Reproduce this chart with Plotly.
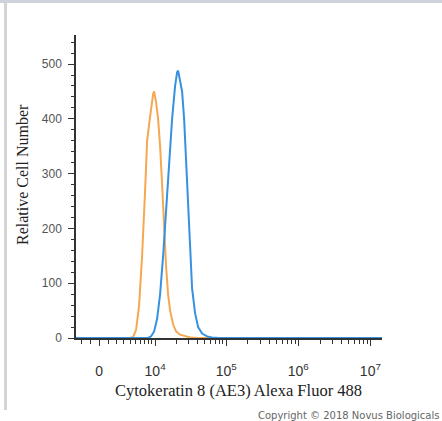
import numpy as np
import plotly.graph_objects as go

# ---- data (raw fluorescence intensity vs. cell count) ----
orange_x = [-2780, 0, 2000, 4000, 4520, 5080, 5700, 6360, 7090, 7610, 8150, 8730, 9350, 9680,
            10350, 11070, 11840, 12650, 13520, 14440, 15400, 16450, 18140, 20000,
            22750, 26750, 31400, 40000, 1.45e7]
orange_y = [0, 0, 0, 0, 2, 15, 60, 150, 270, 360, 390, 420, 445, 450,
            430, 400, 350, 280, 200, 130, 80, 50, 25, 12,
            6, 3, 1, 0, 0]

blue_x = [-2780, 0, 4000, 7870, 8730, 9680, 10710, 11840, 13080, 14440, 15920, 17560, 19360,
          20650, 21340, 22750, 24280, 25910, 27640, 29450, 31400, 33500, 36900,
          40620, 46200, 54200, 63600, 80000, 1.45e7]
blue_y = [0, 0, 0, 0, 3, 12, 35, 80, 150, 240, 330, 400, 460,
          485, 488, 470, 450, 400, 320, 230, 150, 90, 45,
          20, 8, 3, 1, 0, 0]

major_vals = [0, 1e4, 1e5, 1e6, 1e7]
major_text = ["0", "10<sup>4</sup>", "10<sup>5</sup>", "10<sup>6</sup>", "10<sup>7</sup>"]
x_title = "Cytokeratin 8 (AE3) Alexa Fluor 488"
y_title = "Relative Cell Number"
credit = "Copyright © 2018 Novus Biologicals"

# biexponential-like (arcsinh) display transform used by the cytometry axis
C = 3442.0
def tf(v):
    return np.arcsinh(np.asarray(v, dtype=float) / C)

minor_raw = []
for m in range(1, 10):
    minor_raw += [-m * 1000, m * 1000]
for e in (4, 5, 6):
    minor_raw += [m * 10 ** e for m in range(2, 10)]
x_lo, x_hi = tf(-2780), tf(1.45e7)
minor_t = [float(t) for t in tf(minor_raw) if x_lo <= t <= x_hi]

W, H = 442, 421
L, R, T, B = 76, 60, 35, 83
PW, PH = W - L - R, H - T - B
def px(x):  # pixel -> paper x
    return (x - L) / PW
def py(y):  # pixel -> paper y
    return (H - B - y) / PH

fig = go.Figure()
fig.add_trace(go.Scatter(x=tf(orange_x), y=orange_y, mode="lines",
                         line=dict(color="rgb(245,168,80)", width=2), showlegend=False))
fig.add_trace(go.Scatter(x=tf(blue_x), y=blue_y, mode="lines",
                         line=dict(color="rgb(55,145,225)", width=2), showlegend=False))

fig.update_layout(
    width=W, height=H,
    margin=dict(l=L, r=R, t=T, b=B),
    paper_bgcolor="white", plot_bgcolor="white",
    font=dict(family="Liberation Sans, Arial", color="#444"),
    xaxis=dict(
        range=[float(x_lo), float(x_hi)],
        tickmode="array", tickvals=[float(t) for t in tf(major_vals)], ticktext=major_text,
        ticks="outside", ticklen=6, tickwidth=1, tickcolor="#333",
        showline=True, linecolor="#333", linewidth=1.5,
        showgrid=False, zeroline=False,
        tickfont=dict(size=14, color="#333"),
        ticklabelstandoff=13,
        minor=dict(tickmode="array", tickvals=minor_t, ticks="outside", ticklen=4,
                   tickwidth=1, tickcolor="#333", showgrid=False),
    ),
    yaxis=dict(
        range=[0, 553],
        tickmode="array", tickvals=[0, 100, 200, 300, 400, 500],
        ticks="outside", ticklen=6, tickwidth=1, tickcolor="#333",
        showline=True, linecolor="#333", linewidth=1.5,
        showgrid=False, zeroline=False,
        tickfont=dict(size=12, color="#555"),
        ticklabelstandoff=4,
        minor=dict(dtick=20, tick0=0, ticks="outside", ticklen=3, tickwidth=1,
                   tickcolor="#333", showgrid=False),
    ),
    shapes=[
        dict(type="rect", xref="paper", yref="paper", x0=px(0), x1=px(W),
             y0=py(3), y1=py(0), fillcolor="rgb(205,210,220)", line_width=0, layer="below"),
        dict(type="rect", xref="paper", yref="paper", x0=px(4), x1=px(7),
             y0=py(410), y1=py(3), fillcolor="rgb(212,212,212)", line_width=0, layer="below"),
    ],
    annotations=[
        dict(text=x_title, xref="paper", yref="paper", x=px(238), y=py(390),
             xanchor="center", yanchor="middle", showarrow=False,
             font=dict(family="Liberation Serif, Times New Roman", size=16.5, color="#222")),
        dict(text=y_title, xref="paper", yref="paper", x=px(22), y=py(175), textangle=-90,
             xanchor="center", yanchor="middle", showarrow=False,
             font=dict(family="Liberation Serif, Times New Roman", size=16, color="#222")),
        dict(text=credit, xref="paper", yref="paper", x=px(441), y=py(415),
             xanchor="right", yanchor="middle", showarrow=False,
             font=dict(family="DejaVu Sans", size=10, color="#666")),
    ],
)

fig.write_html("out.html", config={"displayModeBar": False},
               post_script="document.body.style.margin='0';document.body.style.padding='0';")
